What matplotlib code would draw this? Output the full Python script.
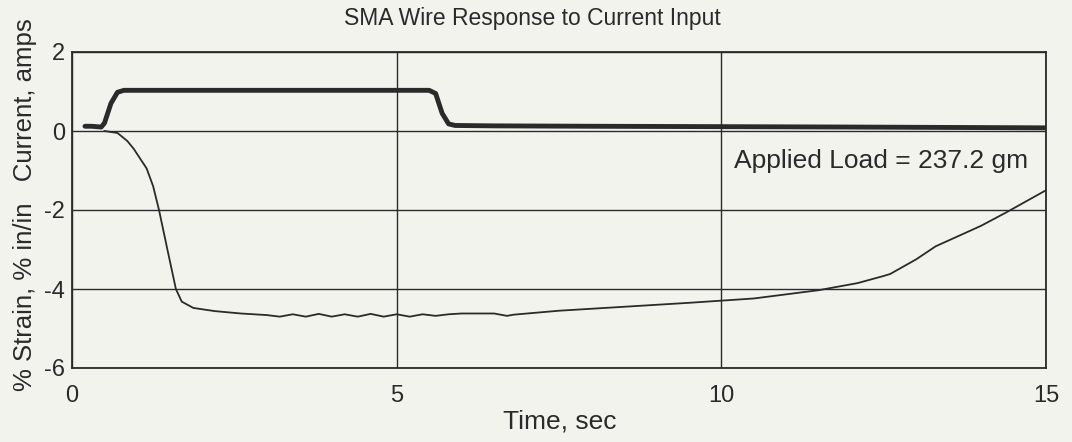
import numpy as np
import matplotlib
matplotlib.use('Agg')
import matplotlib.pyplot as plt

# current input trace (amps)
t_cur = [0.2, 0.3, 0.45, 0.5, 0.6, 0.7, 0.8, 1.0, 3.0, 5.5, 5.6, 5.7, 5.8, 5.9, 6.5, 8.0, 10.0, 12.0, 15.0]
i_cur = [0.12, 0.12, 0.1, 0.2, 0.7, 0.98, 1.03, 1.03, 1.03, 1.03, 0.95, 0.45, 0.18, 0.14, 0.13, 0.12, 0.11, 0.1, 0.08]

# strain response (% in/in)
t_str = [0.5, 0.7, 0.85, 0.95, 1.05, 1.15, 1.25, 1.34, 1.46, 1.6, 1.69, 1.87, 2.2, 2.6, 3.0,
         3.2, 3.4, 3.6, 3.8, 4.0, 4.2, 4.4, 4.6, 4.8, 5.0, 5.2, 5.4, 5.6, 5.8, 6.0,
         6.5, 6.7, 6.8, 7.5, 8.5, 9.5, 10.5, 11.5, 12.1, 12.5, 12.6, 13.0, 13.3, 14.0, 14.4, 15.0]
s_str = [0.0, -0.05, -0.25, -0.45, -0.7, -0.95, -1.4, -2.0, -2.93, -4.0, -4.32, -4.48, -4.56, -4.62, -4.66,
         -4.7, -4.64, -4.7, -4.63, -4.7, -4.64, -4.7, -4.63, -4.7, -4.64, -4.7, -4.64, -4.68, -4.64, -4.62,
         -4.62, -4.68, -4.65, -4.55, -4.45, -4.35, -4.24, -4.03, -3.85, -3.67, -3.62, -3.25, -2.92, -2.4, -2.05, -1.5]

bg = '#f3f3ee'
ink = '#2a2a2a'

plt.rcParams['font.family'] = ['Liberation Sans', 'DejaVu Sans']
plt.rcParams['axes.unicode_minus'] = False

fig = plt.figure(figsize=(10.72, 4.42), dpi=100, facecolor=bg)
ax = fig.add_axes([72/1072, 1-368/442, (1046-72)/1072, (368-52)/442])
ax.set_facecolor(bg)

ax.plot(t_cur, i_cur, color=ink, lw=3.5, solid_capstyle='round')
ax.plot(t_str, s_str, color=ink, lw=1.3)

ax.set_xlim(0, 15)
ax.set_ylim(-6, 2)
ax.set_xticks([0, 5, 10, 15])
ax.set_yticks([-6, -4, -2, 0, 2])
ax.tick_params(length=0, labelsize=17, colors=ink)
ax.tick_params(axis='x', pad=12)
ax.tick_params(axis='y', pad=5)
ax.grid(True, color=ink, lw=1.0)
for sp in ax.spines.values():
    sp.set_color(ink)
    sp.set_linewidth(1.3)

ax.text(10.2, -0.75, 'Applied Load = 237.2 gm', fontsize=19, color=ink, va='center')

fig.text(532/1072, 1-19/442, 'SMA Wire Response to Current Input', fontsize=16.5, color=ink,
         ha='center', va='center')
fig.text(560/1072, 1-422/442, 'Time, sec', fontsize=19, color=ink, ha='center', va='center')
fig.text(25/1072, 1-205/442, '% Strain, % in/in   Current, amps', fontsize=18.5, color=ink,
         ha='center', va='center', rotation=90)

fig.savefig('out.png', dpi=100, facecolor=bg)
